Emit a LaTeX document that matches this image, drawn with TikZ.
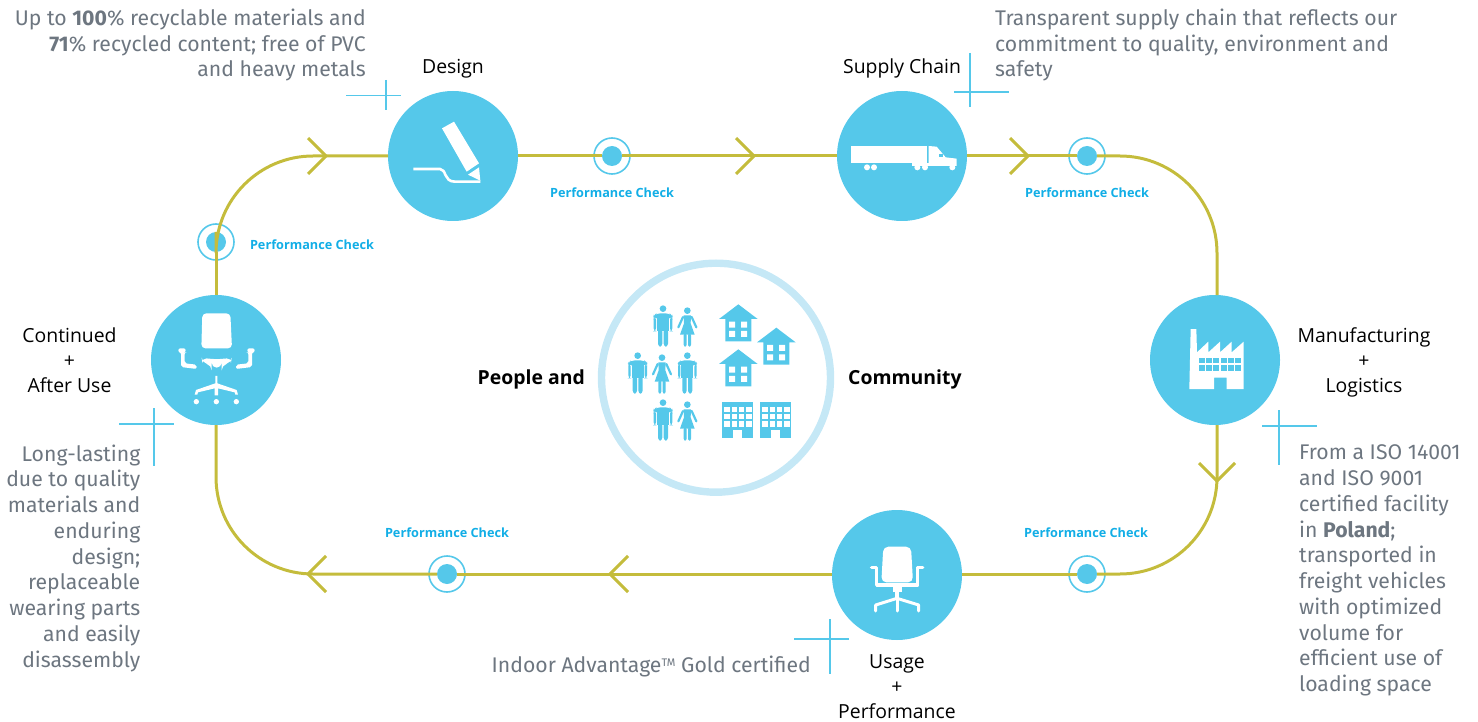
\documentclass[tikz,border=0pt]{standalone}
\usepackage{fontspec}
\setmainfont{Fira Sans}
\newfontfamily\lblfont{Open Sans}
\definecolor{cyanfill}{HTML}{55C8EA}
\definecolor{ringc}{HTML}{C5E8F6}
\definecolor{olive}{HTML}{C4BC3C}
\definecolor{graytxt}{HTML}{6D7680}
\definecolor{pcheck}{HTML}{12AEE6}
\tikzset{
 stage/.style={circle,fill=cyanfill,minimum size=130pt,inner sep=0pt},
 outerm/.style={circle,draw=cyanfill,line width=1.6pt,fill=none,minimum size=36pt,inner sep=0pt},
 innerm/.style={circle,fill=cyanfill,minimum size=20pt,inner sep=0pt,outer sep=0pt},
 loopline/.style={draw=olive,line width=3pt},
 chev/.style={draw=olive,line width=3pt,line cap=butt,line join=miter},
 cross/.style={draw=cyanfill,line width=1.5pt},
 body/.style={inner sep=0pt,text=graytxt,font=\fontsize{21.2}{25.75}\selectfont},
 lbl/.style={inner sep=0pt,text=black,align=center,font=\lblfont\fontsize{19.4}{25}\selectfont},
 pc/.style={inner sep=0pt,text=pcheck,font=\lblfont\bfseries\fontsize{12.7}{14}\selectfont},
 central/.style={inner sep=0pt,text=black,font=\lblfont\bfseries\fontsize{19.4}{23}\selectfont},
 ic/.style={fill=white,draw=none},
 pp/.style={fill=cyanfill,draw=none},
 zm/.style={x=0.33333pt,y=-0.33333pt},
 man/.pic={
  \fill[pp] (0,0) circle (10);
  \fill[pp,rounded corners=4] (-28,30)--(-28,22)--(-20,14)--(20,14)--(28,22)--(28,30)--cycle;
  \fill[pp] (-18,22) rectangle (18,68);
  \fill[pp,rounded corners=3] (-28,24) rectangle (-21,68);
  \fill[pp,rounded corners=3] (21,24) rectangle (28,68);
  \fill[pp,rounded corners=3] (-15,60) rectangle (-2,114);
  \fill[pp,rounded corners=3] (2,60) rectangle (15,114);
 },
 woman/.pic={
  \fill[pp] (0,0) circle (10);
  \fill[pp] (-11,14)--(11,14)--(10,38)--(22,72)--(-22,72)--(-10,38)--cycle;
  \draw[cyanfill,line width=2.2pt,line cap=round] (13,19)--(27,50);
  \draw[cyanfill,line width=2.2pt,line cap=round] (-13,19)--(-27,50);
  \fill[pp,rounded corners=2] (-11,68) rectangle (-2,108);
  \fill[pp,rounded corners=2] (2,68) rectangle (11,108);
 },
 house/.pic={
  \fill[pp] (0,0)--(58,44)--(39,44)--(39,111)--(-39,111)--(-39,44)--(-58,44)--cycle;
  \fill[white] (-28,52) rectangle (-10,70) (8,52) rectangle (26,70) (-28,80) rectangle (-10,98) (8,80) rectangle (26,98);
 },
 tower/.pic={
  \fill[pp] (0,0) rectangle (93,108);
  \foreach \ix in {0,1,2,3}\foreach \iy in {0,1,2}{
   \fill[white] (6+\ix*22,15+\iy*22) rectangle ++(16,16);}
  \fill[white] (31,84) rectangle (60,108);
 }
}
\newcommand{\chevron}[4]{\coordinate (#1) at (#2,#3);
 \draw[chev,shift={(#1)},rotate=#4] (-18,-18)--(0,0)--(-18,18);}
\begin{document}
\begin{tikzpicture}[x=1pt,y=-1pt]
\useasboundingbox (0,0) rectangle (1478,722);
% stages
\node[stage] (design) at (453,156) {};
\node[stage] (supply) at (902,156) {};
\node[stage] (manuf) at (1215,360) {};
\node[stage] (usage) at (897,575) {};
\node[stage] (cont) at (216,360) {};
% checks
\node[outerm] (c1o) at (612,156) {}; \node[innerm] (c1) at (612,156) {};
\node[outerm] (c2o) at (1087,156) {}; \node[innerm] (c2) at (1087,156) {};
\node[outerm] (c3o) at (1087,574) {}; \node[innerm] (c3) at (1087,574) {};
\node[outerm] (c4o) at (447,574) {}; \node[innerm] (c4) at (447,574) {};
\node[outerm] (c5o) at (216,242) {}; \node[innerm] (c5) at (216,242) {};
% helper coordinates on the loop
\coordinate (mt) at (1217,295);
\coordinate (mb) at (1217,425);
\coordinate (ul) at (832,574);
\coordinate (ur) at (962,574);
\coordinate (dw) at (388,156);
\coordinate (de) at (518,156);
\coordinate (sw) at (837,156);
\coordinate (se) at (967,156);
% connectors
\draw[loopline] (cont.north) -- (c5.south);
\draw[loopline,rounded corners=97pt] (c5.north) -- (216,156) -- (dw);
\draw[loopline] (de) -- (c1.west);
\draw[loopline] (c1.east) -- (sw);
\draw[loopline] (se) -- (c2.west);
\draw[loopline,rounded corners=97pt] (c2.east) -- (1217,156) -- (mt);
\draw[loopline,rounded corners=97pt] (mb) -- (1217,574) -- (c3.east);
\draw[loopline] (c3.west) -- (ur);
\draw[loopline] (ul) -- (c4.east);
\draw[loopline,rounded corners=97pt] (c4.west) -- (216,574) -- (cont.south);
% chevrons
\chevron{a1}{326}{156}{0}
\chevron{a2}{754}{156}{0}
\chevron{a3}{1028}{156}{0}
\chevron{a4}{1217}{481}{-90}
\chevron{a5}{610}{574}{180}
\chevron{a6}{308}{574}{180}
% crosses
\draw[cross] (346,95.5)--(401,95.5) (386,80)--(386,110);
\draw[cross] (954,92)--(1009,92) (970,53)--(970,107);
\draw[cross] (119,424)--(174,424) (154,408)--(154,466);
\draw[cross] (1262,426)--(1317,426) (1279,410)--(1279,465);
\draw[cross] (794,639)--(849,639) (830,619)--(830,674);
% design icon
\begin{scope}[shift={(380,80)},zm]
\fill[ic] (186,145)--(222,125)--(297,250)--(260,275)--cycle;
\fill[ic] (264,284)--(297,262)--(301,302)--cycle;
\draw[white,line width=2.6pt,line cap=butt] (100,267)--(180,267) .. controls (200,267) and (190,305) .. (225,305)--(301,305);
\end{scope}
% truck icon
\begin{scope}[shift={(830,80)},zm]
\fill[ic] (63,198) rectangle (290,249);
\fill[ic] (245,249) rectangle (296,258);
\fill[ic] (296,198)--(320,200)--(347,232)--(380,236)--(380,258)--(296,258)--cycle;
\fill[cyanfill] (328,222) rectangle (340,232);
\foreach \wx in {111,132,262,285,367}{\fill[ic] (\wx,262) circle (9);}
\end{scope}
% factory icon
\begin{scope}[shift={(1140,290)},zm]
\fill[ic] (152,117)--(169,117)--(171,187)--(205,155)--(205,187)--(240,155)--(240,187)--(275,155)--(275,187)--(311,155)--(311,297)--(260,297)--(260,263)--(222,263)--(222,297)--(148,297)--cycle;
\foreach \ix in {0,...,5}\foreach \iy in {0,1}{
 \fill[cyanfill] (177+\ix*21.5,203+\iy*23) rectangle ++(18,16);}
\end{scope}
% usage chair icon
\begin{scope}[shift={(825,505)},zm]
\fill[ic,rounded corners=5] (175,125)--(258,125)--(264,232)--(169,232)--cycle;
\draw[white,line width=3.6pt,line cap=round,line join=round] (140,188)--(155,188)--(155,240)--(278,240)--(278,188)--(293,188);
\fill[ic] (203,240) rectangle (230,262);
\fill[ic] (209,262) rectangle (223,282);
\draw[white,line width=3pt,line cap=round,line join=round] (216,280)--(152,300)--(152,318);
\draw[white,line width=3pt,line cap=round,line join=round] (216,280)--(281,300)--(281,318);
\draw[white,line width=3pt,line cap=round] (216,280)--(216,318);
\end{scope}
% continued chair icon
\begin{scope}[shift={(140,220)},zm]
\fill[ic,rounded corners=4] (187,280)--(271,280)--(276,385)--(184,385)--cycle;
\fill[ic,rounded corners=5] (185,414)--(230,418)--(275,414)--(273,428)--(245,436)--(245,443)--(215,443)--(215,436)--(187,428)--cycle;
\fill[ic,rounded corners=2] (115,385)--(137,385)--(137,397)--(134,397)--(134,430)--(170,434)--(170,447)--(123,441)--(123,397)--(115,397)--cycle;
\fill[ic,rounded corners=2] (344,385)--(322,385)--(322,397)--(325,397)--(325,430)--(288,434)--(288,447)--(336,441)--(336,397)--(344,397)--cycle;
\fill[ic] (226,468)--(232,468)--(232,490)--(290,510)--(294,524)--(286,524)--(284,517)--(234,505)--(234,526)--(224,526)--(224,505)--(174,517)--(172,524)--(164,524)--(168,510)--(226,490)--cycle;
\foreach \wx in {169,229,289}{\fill[ic] (\wx,545) circle (8);}
\end{scope}
% centre
\node[circle,draw=ringc,line width=7.4pt,minimum size=229pt,inner sep=0pt] (ring) at (716,377.7) {};
\begin{scope}[shift={(590,250)},zm]
\pic at (219,176) {man};
\pic at (292,182) {woman};
\pic at (143,317) {man};
\pic at (216,323) {woman};
\pic at (292,317) {man};
\pic at (219,458) {man};
\pic at (292,464) {woman};
\pic at (445,163) {house};
\pic at (559,233) {house};
\pic at (445,298) {house};
\pic at (397,455) {tower};
\pic at (511,455) {tower};
\end{scope}
\node[central,anchor=east] (pa) at (585,379) {People and};
\node[central,anchor=west] (cm) at (848,379) {Community};
% labels
\node[lbl] (l1) at (453,68.5) {Design};
\node[lbl] (l2) at (902,68.5) {Supply Chain};
\node[lbl] (l3) at (1364,362.5) {Manufacturing\\+\\Logistics};
\node[lbl] (l4) at (897,687) {Usage\\+\\Performance};
\node[lbl] (l5) at (69.5,360) {Continued\\+\\After Use};
% performance check
\node[pc] (p1) at (612,192.5) {Performance Check};
\node[pc] (p2) at (1087,192.5) {Performance Check};
\node[pc] (p3) at (1086,533) {Performance Check};
\node[pc] (p4) at (447,533) {Performance Check};
\node[pc] (p5) at (312,244.5) {Performance Check};
% body texts
\node[body,align=right,anchor=east] (t1) at (366,45) {Up to \textbf{100}\% recyclable materials and\\\textbf{71}\% recycled content; free of PVC\\and heavy metals};
\node[body,align=left,anchor=west] (t2) at (995,45) {Transparent supply chain that reflects our\\commitment to quality, environment and\\safety};
\node[body,align=right,anchor=east] (t3) at (140.5,558) {Long-lasting\\due to quality\\materials and\\enduring\\design;\\replaceable\\wearing parts\\and easily\\disassembly};
\node[body,align=left,anchor=west] (t4) at (1299,570.5) {From a ISO 14001\\and ISO 9001\\certified facility\\in \textbf{Poland};\\transported in\\freight vehicles\\with optimized\\volume for\\efficient use of\\loading space};
\node[body,anchor=east] (t5) at (811,666) {Indoor Advantage\raisebox{0.45ex}{\fontsize{11}{11}\selectfont TM} Gold certified};
\end{tikzpicture}
\end{document}
